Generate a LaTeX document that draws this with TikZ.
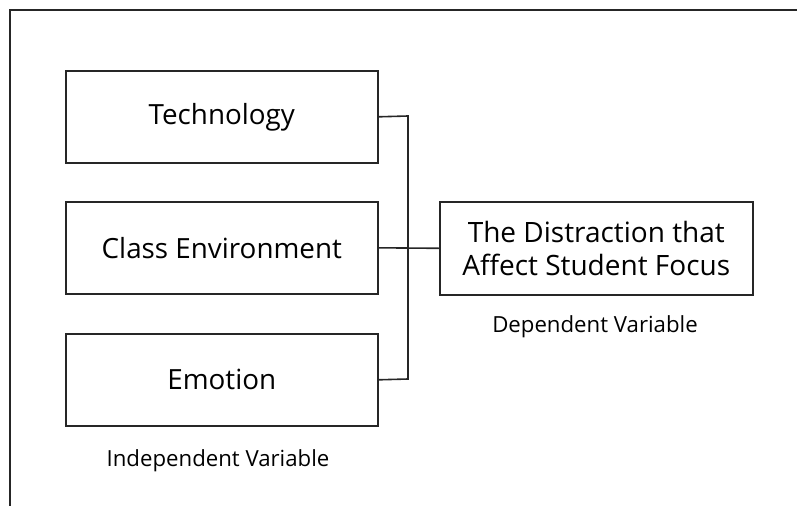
\documentclass[tikz,border=0pt]{standalone}
\usepackage{fontspec}
\setmainfont{Open Sans}
\begin{document}
\begin{tikzpicture}[x=1pt,y=-1pt,
  box/.style={draw=black!85,line width=1.6pt,minimum width=312pt,minimum height=92pt,inner sep=0pt,font=\fontsize{27.8}{33}\selectfont,anchor=north west},
  dbox/.style={draw=black!85,line width=1.6pt,minimum width=313pt,minimum height=93pt,inner sep=0pt,font=\fontsize{28}{32.5}\selectfont,align=center,anchor=north west},
  lbl/.style={font=\fontsize{22.2}{26}\selectfont},
  conn/.style={draw=black!85,line width=1.6pt}]
\useasboundingbox (0,0) rectangle (797,506);
\draw[line width=1.8pt,black!85] (797,10) -- (10,10) -- (10,506);
\node[box] (tech) at (65,70) {Technology};
\node[box] (cls) at (65,201) {Class Environment};
\node[box] (emo) at (65,333) {Emotion};
\node[dbox] (dv) at (439,201) {The Distraction that\\Affect Student Focus};
\coordinate (j1) at (408,116);
\coordinate (j2) at (408,379);
\draw[conn] (tech.east) -- (j1) -- (j2) -- (emo.east);
\draw[conn] (cls.east) -- (dv.west);
\node[lbl] (dl) at (595,327) {Dependent Variable};
\node[lbl] (il) at (218,461) {Independent Variable};
\end{tikzpicture}
\end{document}
